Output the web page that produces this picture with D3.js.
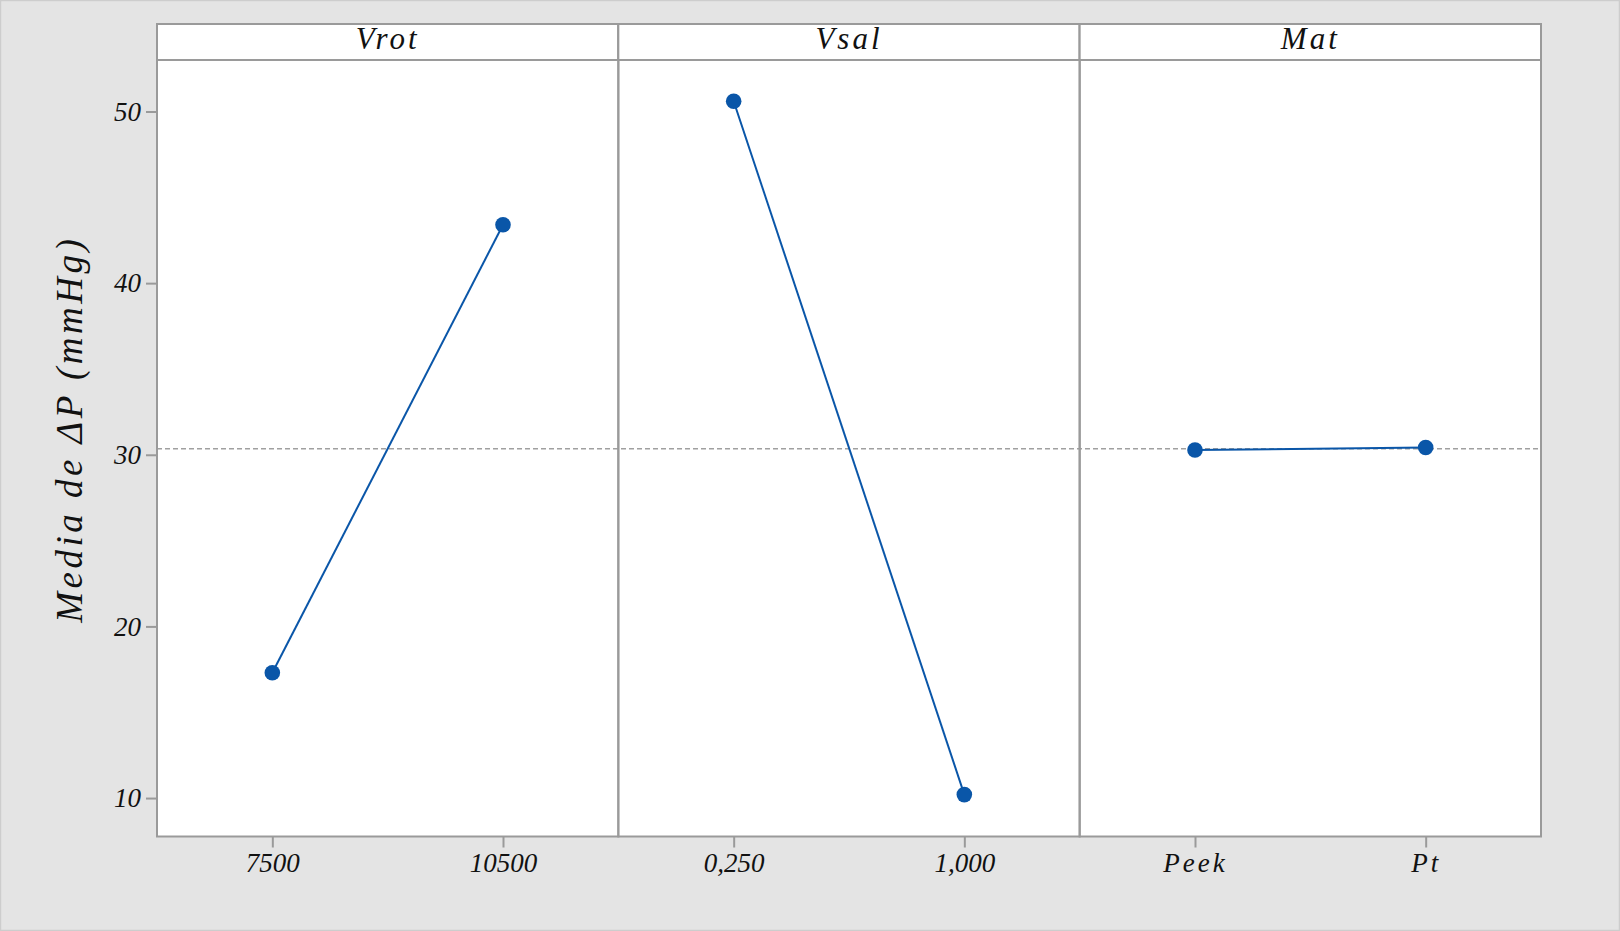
<!DOCTYPE html>
<html><head><meta charset="utf-8">
<script src="https://cdn.jsdelivr.net/npm/d3@7"></script>
<style>
body{margin:0;background:#e4e4e4;}
svg{display:block;}
.tk text{font-family:"Liberation Serif",serif;font-style:italic;fill:#111;}
</style></head><body>
<svg id="c" width="1620" height="931"></svg>
<script>
const factors = ["Vrot", "Vsal", "Mat"];
const levels = [["7500", "10500"], ["0,250", "1,000"], ["Peek", "Pt"]];
const means = [[17.3, 43.4], [50.6, 10.2], [30.28, 30.42]];
const grandMean = 30.35;
const yTicks = [10, 20, 30, 40, 50];
const yTitle = "Media de ΔP (mmHg)";

(function () {
const W = 1620, H = 931;
const pLeft = 157, pRight = 1541, pTop = 24, stripH = 36, pBottom = 836.5;
const svg = d3.select("#c");
svg.append("rect").attr("x", 0.5).attr("y", 0.5).attr("width", W - 1).attr("height", H - 1)
  .attr("fill", "#e4e4e4").attr("stroke", "#cdcdcd").attr("stroke-width", 1.5);

const y = d3.scaleLinear().domain([7.76, 53.0]).range([pBottom, pTop + stripH]);
const panel = d3.scaleBand().domain(factors).range([pLeft, pRight]);
const pw = panel.bandwidth();
const gray = "#9a9a9a";

svg.append("rect").attr("x", pLeft).attr("y", pTop).attr("width", pRight - pLeft).attr("height", pBottom - pTop)
  .attr("fill", "#fff");

svg.append("line").attr("x1", pLeft).attr("x2", pRight).attr("y1", y(grandMean)).attr("y2", y(grandMean))
  .attr("stroke", "#a0a0a0").attr("stroke-width", 1.5).attr("stroke-dasharray", "5,3");

factors.forEach((f, i) => {
  const x0 = panel(f);
  const x = d3.scalePoint().domain(levels[i]).range([x0, x0 + pw]).padding(0.5);
  const data = levels[i].map((l, j) => ({l, v: means[i][j]}));
  svg.append("path").datum(data)
    .attr("d", d3.line().x(d => x(d.l)).y(d => y(d.v)))
    .attr("fill", "none").attr("stroke", "#0a56a8").attr("stroke-width", 2);
  svg.selectAll(null).data(data).enter().append("circle")
    .attr("cx", d => x(d.l)).attr("cy", d => y(d.v)).attr("r", 7.8).attr("fill", "#0a56a8");
  const ax = svg.append("g").attr("class", "tk").attr("transform", `translate(0,${pBottom})`)
    .call(d3.axisBottom(x).tickSize(11).tickPadding(5));
  ax.select(".domain").remove();
  ax.selectAll("line").attr("stroke", gray).attr("stroke-width", 2);
  ax.selectAll("text").attr("font-size", 27).attr("letter-spacing", i === 2 ? 3 : 0).attr("fill", "#111");
  svg.append("rect").attr("x", x0).attr("y", pTop).attr("width", pw).attr("height", pBottom - pTop)
    .attr("fill", "none").attr("stroke", gray).attr("stroke-width", 2);
  svg.append("rect").attr("x", x0).attr("y", pTop).attr("width", pw).attr("height", stripH)
    .attr("fill", "#fff").attr("stroke", gray).attr("stroke-width", 2);
  svg.append("text").attr("x", x0 + pw / 2).attr("y", pTop + stripH / 2 - 4).attr("dy", "0.36em")
    .attr("text-anchor", "middle").attr("font-family", "Liberation Serif, serif").attr("font-style", "italic")
    .attr("font-size", 31).attr("letter-spacing", 3).attr("fill", "#111").text(f);
});

const ay = svg.append("g").attr("class", "tk").attr("transform", `translate(${pLeft},0)`)
  .call(d3.axisLeft(y).tickValues(yTicks).tickSize(11).tickPadding(5));
ay.select(".domain").remove();
ay.selectAll("line").attr("stroke", gray).attr("stroke-width", 2);
ay.selectAll("text").attr("font-size", 27).attr("fill", "#111");

svg.append("text").attr("transform", `translate(69,${(pTop + stripH + pBottom) / 2 - 19}) rotate(-90)`)
  .attr("dy", "0.36em").attr("text-anchor", "middle").attr("font-family", "Liberation Serif, serif")
  .attr("font-style", "italic").attr("font-size", 37).attr("letter-spacing", 3.5).attr("fill", "#111")
  .text(yTitle);
})();
</script></body></html>
